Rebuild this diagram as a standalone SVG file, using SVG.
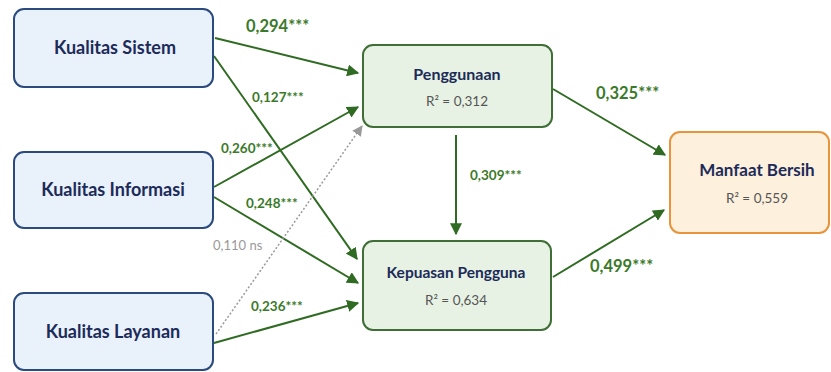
<svg xmlns="http://www.w3.org/2000/svg" width="831" height="372" viewBox="0 0 831 372">
<style>
.box{stroke-width:2}
.src{fill:#e9f1fb;stroke:#2b4a7e}
.mid{fill:#e7f2e4;stroke:#3f6e36}
.out{fill:#fdf0dd;stroke:#e8943a}
.t{font-family:Lato,"Open Sans",sans-serif;font-weight:bold;fill:#1c2b58;text-anchor:middle}
.r{font-family:Lato,"Open Sans",sans-serif;font-size:13.5px;fill:#555;text-anchor:middle}
.c{stroke:#2f6b22;stroke-width:2;fill:none;marker-end:url(#ah)}
.d{stroke:#999;stroke-width:1.5;stroke-dasharray:2 2;fill:none;marker-end:url(#ahg)}
.l{font-family:Lato,"Open Sans",sans-serif;font-weight:bold;fill:#3a7a2a;font-size:13.5px}
.lb{font-size:16.5px}
.g{fill:#999;font-weight:normal;font-size:13px}
</style>
<defs>
<marker id="ah" viewBox="0 0 10 10" refX="9" refY="5" markerWidth="6" markerHeight="6" orient="auto" markerUnits="strokeWidth">
<path d="M0,0 L10,5 L0,10 z" fill="#2f6b22"/>
</marker>
<marker id="ahg" viewBox="0 0 10 10" refX="9" refY="5" markerWidth="7" markerHeight="7" orient="auto" markerUnits="strokeWidth">
<path d="M0,0 L10,5 L0,10 z" fill="#999"/>
</marker>
</defs>
<rect width="831" height="372" fill="#fff"/>
<g id="connectors">
<line class="c" x1="215" y1="38" x2="358" y2="73"/>
<line class="c" x1="214" y1="56" x2="357" y2="259"/>
<line class="c" x1="214" y1="187" x2="358" y2="107"/>
<line class="c" x1="214" y1="197" x2="358" y2="283"/>
<line class="d" x1="216" y1="334" x2="362" y2="126"/>
<line class="c" x1="214" y1="343" x2="358" y2="303"/>
<line class="c" x1="456" y1="135" x2="456" y2="234"/>
<line class="c" x1="553" y1="89" x2="665" y2="155"/>
<line class="c" x1="553" y1="277" x2="664" y2="210"/>
<text class="l lb" x="246" y="32">0,294***</text>
<text class="l" x="252" y="102">0,127***</text>
<text class="l" x="221" y="153">0,260***</text>
<text class="l" x="246" y="208">0,248***</text>
<text class="l g" x="213" y="250">0,110 ns</text>
<text class="l" x="251" y="311">0,236***</text>
<text class="l" x="470" y="180">0,309***</text>
<text class="l lb" x="596" y="99">0,325***</text>
<text class="l lb" x="590" y="272">0,499***</text>
</g>
<g id="kualitas-sistem">
<rect class="box src" x="14" y="9" width="199" height="78" rx="10"/>
<text class="t" x="115" y="54" font-size="18">Kualitas Sistem</text>
</g>
<g id="kualitas-informasi">
<rect class="box src" x="14" y="152" width="199" height="76" rx="10"/>
<text class="t" x="113" y="196" font-size="18">Kualitas Informasi</text>
</g>
<g id="kualitas-layanan">
<rect class="box src" x="14" y="293" width="199" height="77" rx="10"/>
<text class="t" x="113" y="338" font-size="18">Kualitas Layanan</text>
</g>
<g id="penggunaan">
<rect class="box mid" x="363" y="45" width="189" height="82" rx="10"/>
<text class="t" x="457" y="80" font-size="16">Penggunaan</text>
<text class="r" x="457" y="106">R² = 0,312</text>
</g>
<g id="kepuasan-pengguna">
<rect class="box mid" x="363" y="241" width="188" height="89" rx="10"/>
<text class="t" x="456" y="278" font-size="15.5">Kepuasan Pengguna</text>
<text class="r" x="456" y="305">R² = 0,634</text>
</g>
<g id="manfaat-bersih">
<rect class="box out" x="670" y="132" width="159" height="101" rx="10"/>
<text class="t" x="757" y="176" font-size="17">Manfaat Bersih</text>
<text class="r" x="757" y="203">R² = 0,559</text>
</g>
</svg>
